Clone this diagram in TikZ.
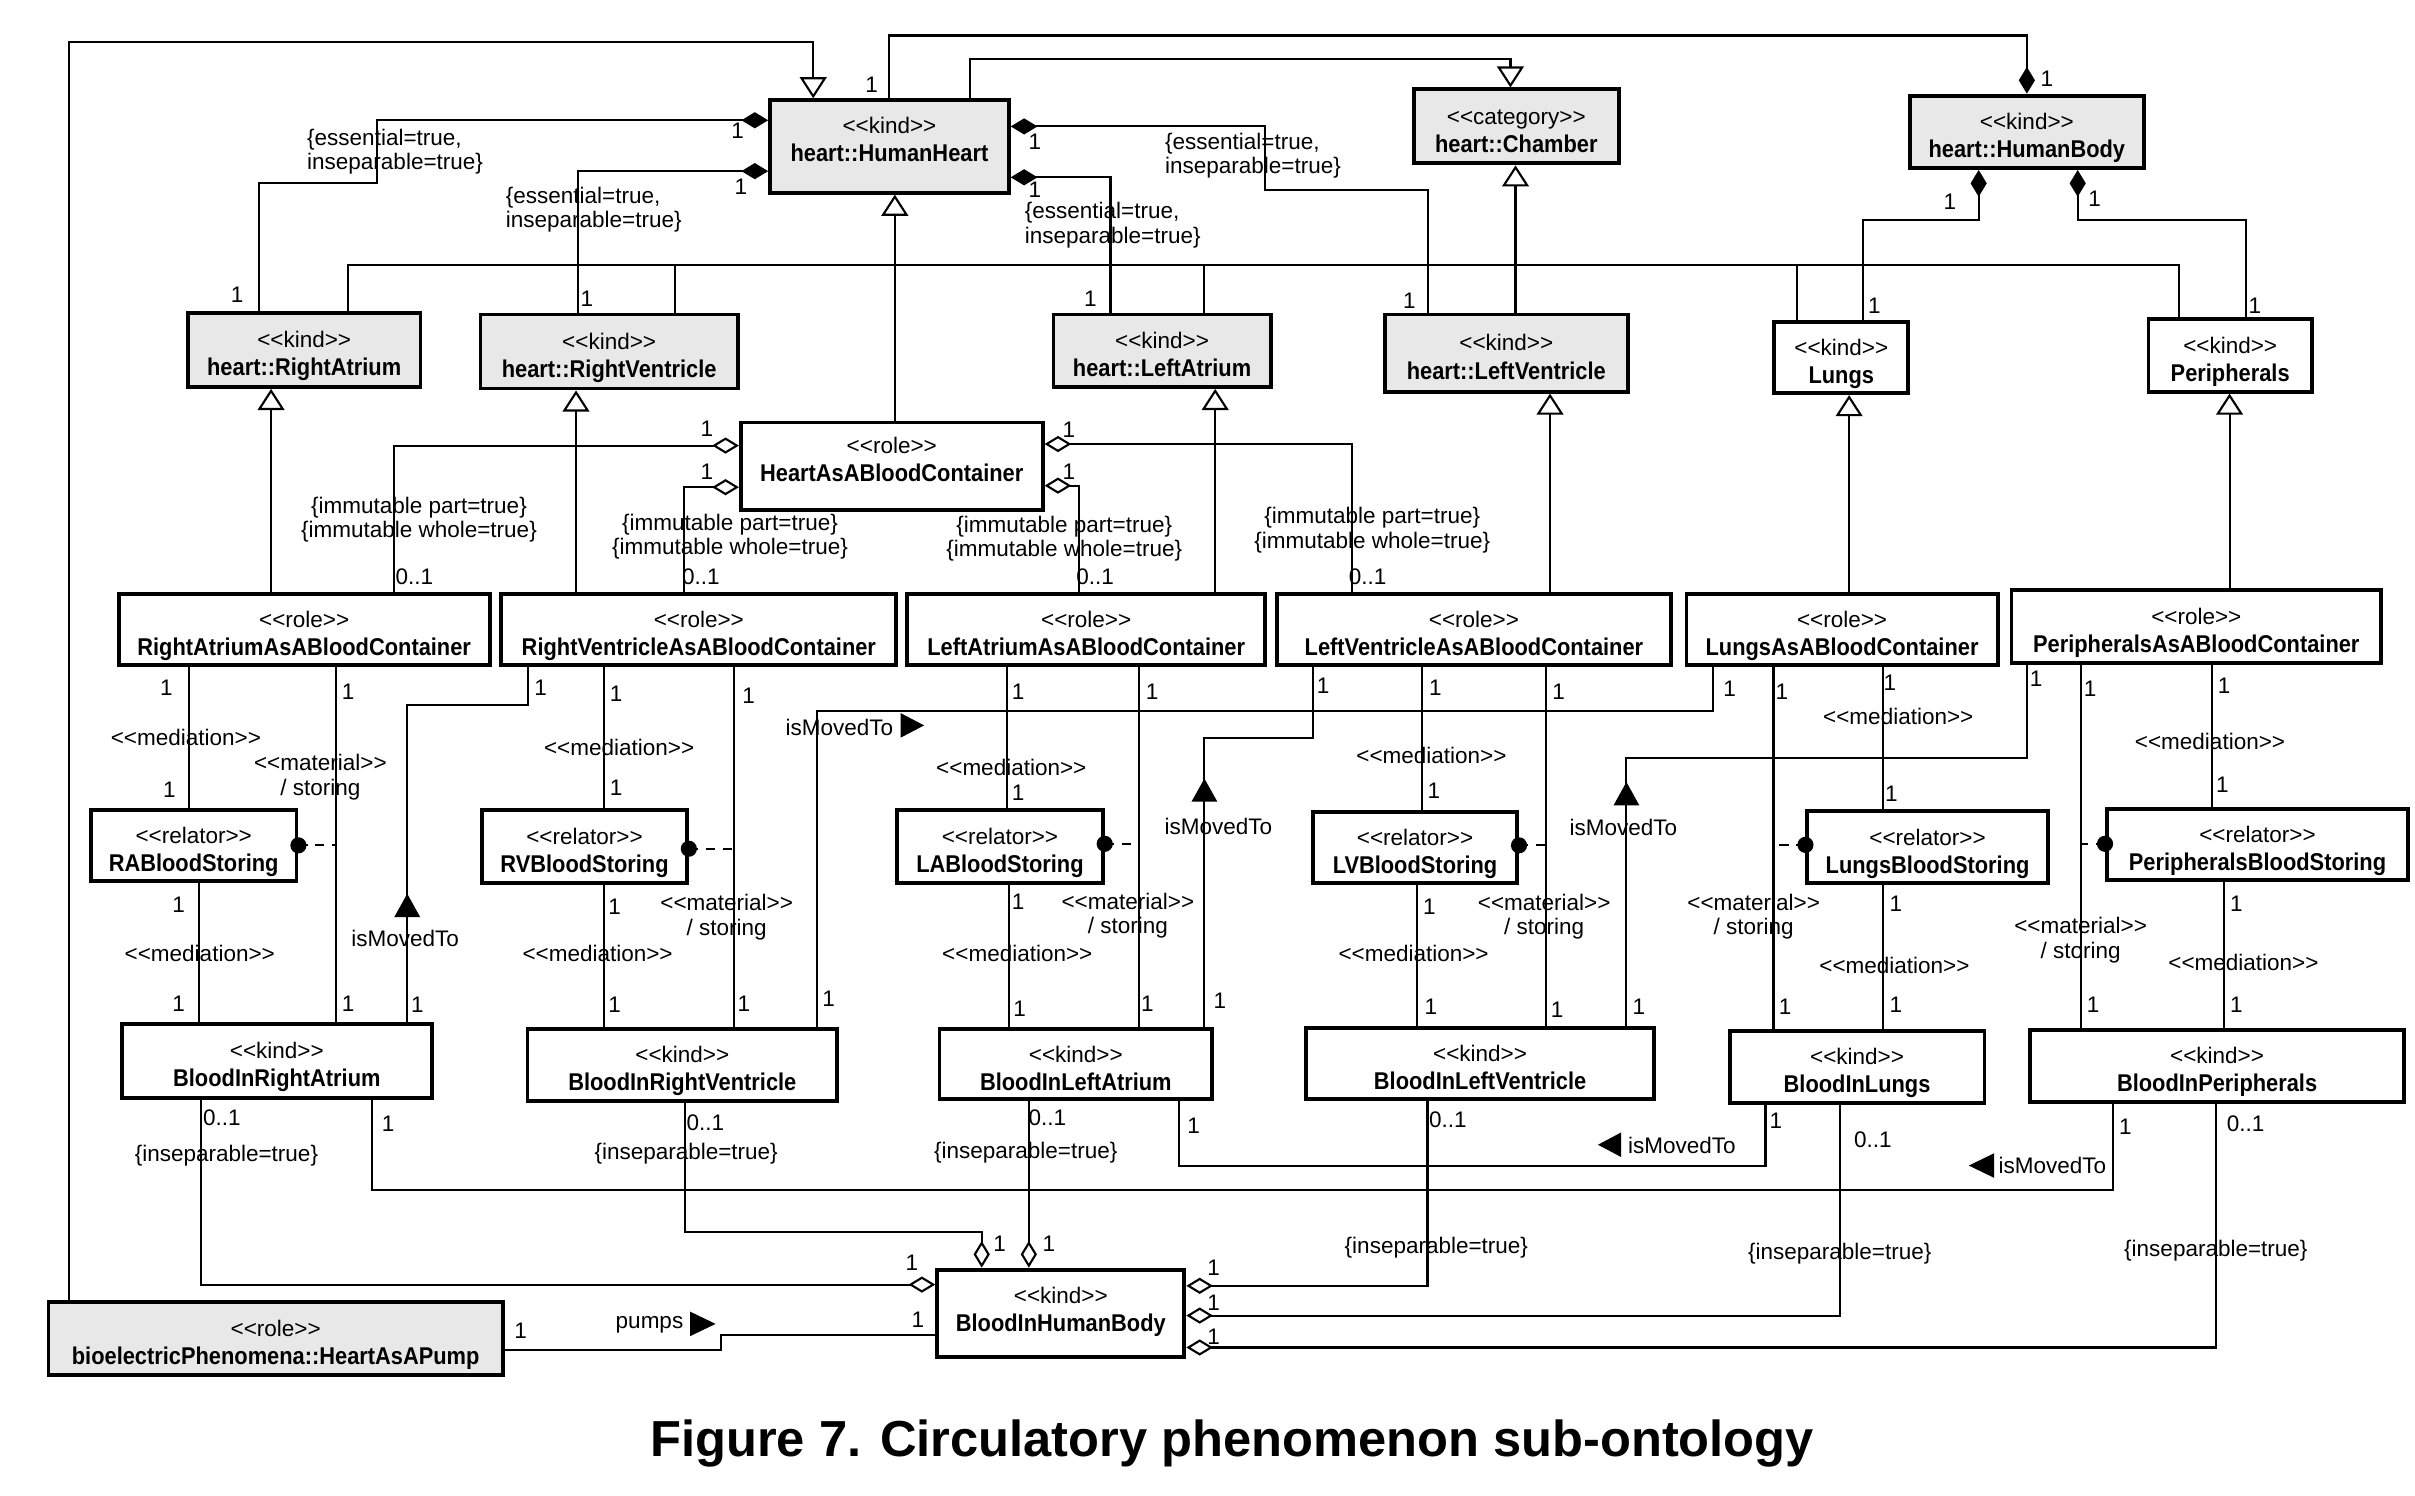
\documentclass[tikz,border=0pt]{standalone}
\usepackage{fontspec}
\setmainfont{Liberation Sans}
\newfontfamily\namefont{Liberation Sans}[FakeStretch=0.9]
\usetikzlibrary{arrows.meta}

\newcommand\stereo[1]{<\kern0pt<#1>\kern0pt>}
\newcommand\cname[1]{{\namefont\bfseries\fontsize{6.9}{8}\selectfont #1}}

\tikzset{
  span/.style args={#1/#2/#3/#4}{minimum width={(#3-#1)*0.015402cm},
    minimum height={(#4-#2)*0.015412cm}, at={({(#1+#3)/2},{(#2+#4)/2})}},
  umlbox/.style={draw, line width=1.1pt, inner sep=0pt, align=center, fill=white,
    text height=15.8pt, text depth=1pt, font=\fontsize{6.4}{8}\selectfont},
  kindbox/.style={umlbox, fill=black!9},
  tallbox/.style={text height=9.6pt},
  conn/.style={line width=0.6pt},
  gen/.style={conn, -{Triangle[open, length=6pt, width=7.6pt]}},
  comp/.style={conn, -{Diamond[length=7.6pt, width=4.6pt]}},
  aggr/.style={conn, -{Diamond[open, length=7.6pt, width=4.6pt]}},
  deriv/.style={conn, dash pattern=on 2.6pt off 2.2pt},
  mult/.style={inner sep=0pt, font=\fontsize{6.4}{7}\selectfont},
  lbl/.style={inner sep=0pt, align=center, font=\fontsize{6.4}{7}\selectfont},
}

\begin{document}
\begin{tikzpicture}[x=0.015402cm, y=-0.015412cm]
\useasboundingbox (0,0) rectangle (1568,970);

% top level
\node[kindbox, tallbox, span=500/65/655/125] (hh) {\stereo{kind}\\\cname{heart::HumanHeart}};
\node[kindbox, span=918/58/1051/106] (ch) {\stereo{category}\\\cname{heart::Chamber}};
\node[kindbox, span=1240/62/1392/109] (hb) {\stereo{kind}\\\cname{heart::HumanBody}};

% chambers
\node[kindbox, span=122/203/273/251] (ra) {\stereo{kind}\\\cname{heart::RightAtrium}};
\node[kindbox, span=312/204/479/252] (rv) {\stereo{kind}\\\cname{heart::RightVentricle}};
\node[kindbox, span=684/204/825/251] (la) {\stereo{kind}\\\cname{heart::LeftAtrium}};
\node[kindbox, span=899/204/1057/254] (lv) {\stereo{kind}\\\cname{heart::LeftVentricle}};
\node[umlbox, span=1152/209/1239/255] (lu) {\stereo{kind}\\\cname{Lungs}};
\node[umlbox, span=1395/207/1501/254] (pe) {\stereo{kind}\\\cname{Peripherals}};

% blood containers
\node[umlbox, tallbox, span=481/274/677/331] (habc) {\stereo{role}\\\cname{HeartAsABloodContainer}};
\node[umlbox, span=77/385/318/431.5] (raabc) {\stereo{role}\\\cname{RightAtriumAsABloodContainer}};
\node[umlbox, span=325.5/385/582/431.5] (rvabc) {\stereo{role}\\\cname{RightVentricleAsABloodContainer}};
\node[umlbox, span=589/385/821.5/431.5] (laabc) {\stereo{role}\\\cname{LeftAtriumAsABloodContainer}};
\node[umlbox, span=829/385/1085/431.5] (lvabc) {\stereo{role}\\\cname{LeftVentricleAsABloodContainer}};
\node[umlbox, span=1095/385/1297/431.5] (luabc) {\stereo{role}\\\cname{LungsAsABloodContainer}};
\node[umlbox, span=1306/382.5/1546/430] (peabc) {\stereo{role}\\\cname{PeripheralsAsABloodContainer}};

% relators
\node[umlbox, span=59/525.5/192.5/571.5] (rabs) {\stereo{relator}\\\cname{RABloodStoring}};
\node[umlbox, span=313/525.5/446/572.5] (rvbs) {\stereo{relator}\\\cname{RVBloodStoring}};
\node[umlbox, span=582.5/525.5/716/573] (labs) {\stereo{relator}\\\cname{LABloodStoring}};
\node[umlbox, span=852.5/526.5/985/573] (lvbs) {\stereo{relator}\\\cname{LVBloodStoring}};
\node[umlbox, span=1173.5/526/1329.5/573] (lubs) {\stereo{relator}\\\cname{LungsBloodStoring}};
\node[umlbox, span=1368/524.5/1563.5/570.5] (pebs) {\stereo{relator}\\\cname{PeripheralsBloodStoring}};

% blood
\node[umlbox, span=79/664/280.5/712] (bra) {\stereo{kind}\\\cname{BloodInRightAtrium}};
\node[umlbox, span=342.5/667.5/543.5/714] (brv) {\stereo{kind}\\\cname{BloodInRightVentricle}};
\node[umlbox, span=610/667.5/787/713] (bla) {\stereo{kind}\\\cname{BloodInLeftAtrium}};
\node[umlbox, span=848/667/1074/713] (blv) {\stereo{kind}\\\cname{BloodInLeftVentricle}};
\node[umlbox, span=1123/668.5/1288.5/715.5] (blu) {\stereo{kind}\\\cname{BloodInLungs}};
\node[umlbox, span=1318/668/1561/714.5] (bpe) {\stereo{kind}\\\cname{BloodInPeripherals}};
\node[umlbox, text height=11.7pt, span=608.5/823.5/769/880] (bhb) {\stereo{kind}\\\cname{BloodInHumanBody}};
\node[kindbox, span=31.5/844.5/326.5/892] (pump) {\stereo{role}\\\cname{bioelectricPhenomena::HeartAsAPump}};

% generalisations
\draw[gen] (pump.north -| 45,0) |- (528,27) -- (hh.north -| 528,0);
\draw[gen] (hh.north -| 629.6,0) |- (980.7,38) -- (ch.north -| 980.7,0);
\draw[gen] (lv.north -| 984,0) -- (ch.south -| 984,0);
\coordinate (tree) at (984,172);
\draw[conn] (ra.north -| 226,0) |- (1414.5,172) -- (pe.north -| 1414.5,0);
\foreach \tx/\tn in {438/rv, 782/la, 1167/lu}
  \draw[conn] (\tn.north -| \tx,0) -- (tree -| \tx,0);
\draw[gen] (habc.north -| 581,0) -- (hh.south -| 581,0);
\foreach \tx/\tc/\tp in {176/raabc/ra, 374/rvabc/rv, 789/laabc/la, 1006.4/lvabc/lv, 1200.6/luabc/lu, 1447.6/peabc/pe}
  \draw[gen] (\tc.north -| \tx,0) -- (\tp.south -| \tx,0);

% compositions
\draw[comp] (ra.north -| 168,0) |- (245,118.5) |- (hh.west |- 0,78);
\draw[comp] (rv.north -| 375,0) |- (hh.west |- 0,111);
\draw[comp] (lv.north -| 927,0) |- (821.6,123) |- (hh.east |- 0,82);
\draw[comp] (la.north -| 721,0) |- (hh.east |- 0,115);
\draw[comp] (hh.north -| 577,0) |- (1316,23) -- (hb.north -| 1316,0);
\draw[comp] (lu.north -| 1209.5,0) |- (1284.7,142.7) -- (hb.south -| 1284.7,0);
\draw[comp] (pe.north -| 1458.3,0) |- (1349,142.7) -- (hb.south -| 1349,0);

% aggregations
\draw[aggr] (raabc.north -| 256,0) |- (habc.west |- 0,289);
\draw[aggr] (rvabc.north -| 444,0) |- (habc.west |- 0,316);
\draw[aggr] (lvabc.north -| 878,0) |- (habc.east |- 0,288);
\draw[aggr] (laabc.north -| 700.3,0) |- (habc.east |- 0,315);
\draw[aggr] (bra.south -| 130.4,0) |- (bhb.west |- 0,833.2);
\draw[aggr] (brv.south -| 444.8,0) |- (637.4,799.3) -- (bhb.north -| 637.4,0);
\draw[aggr] (bla.south -| 668,0) -- (bhb.north -| 668,0);
\draw[aggr] (blv.south -| 926.8,0) |- (bhb.east |- 0,834);
\draw[aggr] (blu.south -| 1194.8,0) |- (bhb.east |- 0,853.3);
\draw[aggr] (bpe.south -| 1438.7,0) |- (bhb.east |- 0,874);

% mediation and material
\foreach \tx/\ta/\tb in {123/raabc/rabs, 129/rabs/bra, 218/raabc/bra,
    392/rvabc/rvbs, 392/rvbs/brv, 476.4/rvabc/brv,
    654/laabc/labs, 655/labs/bla, 739.3/laabc/bla,
    923/lvabc/lvbs, 920/lvbs/blv, 1003.8/lvabc/blv,
    1222.3/luabc/lubs, 1222.8/lubs/blu, 1151.5/luabc/blu,
    1436.2/peabc/pebs, 1443.8/pebs/bpe, 1351/peabc/bpe}
  \draw[conn] (\ta.south -| \tx,0) -- (\tb.north -| \tx,0);

% derivations
\draw[deriv] (rabs.east |- 0,548.3) -- (218,548.3);
\draw[deriv] (rvbs.east |- 0,550.5) -- (476.4,550.5);
\draw[deriv] (labs.east |- 0,547.3) -- (739.3,547.3);
\draw[deriv] (lvbs.east |- 0,548.3) -- (1003.8,548.3);
\draw[deriv] (lubs.west |- 0,548) -- (1151.5,548);
\draw[deriv] (pebs.west |- 0,547.3) -- (1351,547.3);
\fill (rabs.east |- 0,548.3) circle[radius=2.3pt];
\fill (rvbs.east |- 0,550.5) circle[radius=2.3pt];
\fill (labs.east |- 0,547.3) circle[radius=2.3pt];
\fill (lvbs.east |- 0,548.3) circle[radius=2.3pt];
\fill (lubs.west |- 0,548) circle[radius=2.3pt];
\fill (pebs.west |- 0,547.3) circle[radius=2.3pt];

% isMovedTo
\draw[conn] (bra.north -| 264.4,0) |- (342.7,457.5) -- (rvabc.south -| 342.7,0);
\draw[conn] (brv.north -| 530.3,0) |- (1112.4,461.2) -- (luabc.south -| 1112.4,0);
\draw[conn] (bla.north -| 782,0) |- (852.4,478.5) -- (lvabc.south -| 852.4,0);
\draw[conn] (blv.north -| 1056,0) |- (1316,491.5) -- (peabc.south -| 1316,0);
\draw[conn] (bla.south -| 765.7,0) |- (1146.3,756) -- (blu.south -| 1146.3,0);
\draw[conn] (bra.south -| 241.3,0) |- (1371.8,771.8) -- (bpe.south -| 1371.8,0);
\draw[conn] (pump.east |- 0,875.4) -| (467.9,865.7) -- (bhb.west |- 0,865.7);

\node[lbl] (mv1) at (263,609) {isMovedTo};
\node[lbl] (mv2) at (545,471.6) {isMovedTo};
\node[lbl] (mv3) at (791,536) {isMovedTo};
\node[lbl] (mv4) at (1054,536.4) {isMovedTo};
\node[lbl] (mv5) at (1092,743) {isMovedTo};
\node[lbl] (mv6) at (1332.5,756) {isMovedTo};
\node[lbl] (pumps) at (421.7,859) {pumps};
\fill (264.4,579.7) -- (256,594.8) -- (272.8,594.8) -- cycle;
\fill (782,505) -- (773.6,520) -- (790.4,520) -- cycle;
\fill (1056,507.2) -- (1047.6,522.4) -- (1064.4,522.4) -- cycle;
\fill (600,470.5) -- (584.7,462.5) -- (584.7,478.5) -- cycle;
\fill (1037.5,742.5) -- (1052.6,734.5) -- (1052.6,750.5) -- cycle;
\fill (1278.3,756) -- (1294.8,748) -- (1294.8,764) -- cycle;
\fill (464.6,858.7) -- (448,850.7) -- (448,866.7) -- cycle;

% constraints
\node[lbl, anchor=west, align=left] (ess1) at (199,98.5) {\{essential=true,\\inseparable=true\}};
\node[lbl, anchor=west, align=left] (ess2) at (328,136) {\{essential=true,\\inseparable=true\}};
\node[lbl, anchor=west, align=left] (ess3) at (756,101) {\{essential=true,\\inseparable=true\}};
\node[lbl, anchor=west, align=left] (ess4) at (665,146) {\{essential=true,\\inseparable=true\}};
\foreach \px/\py [count=\i] in {272/337, 474/348, 691/349.5, 891/344}
  \node[lbl] (imm\i) at (\px,\py) {\{immutable part=true\}\\\{immutable whole=true\}};
\foreach \px/\py [count=\i] in {147/749.5, 445.5/748, 666/747.4, 932.6/809, 1194.5/813, 1438.7/811}
  \node[lbl] (ins\i) at (\px,\py) {\{inseparable=true\}};
\foreach \px/\py [count=\i] in {120.7/478, 129.7/618.6, 402/484.5, 388/618.6, 656.6/497.5, 660.5/618.6,
    929.4/490, 917.8/618.6, 1232.5/465, 1230/626.2, 1434.9/480.6, 1456.6/624}
  \node[lbl] (med\i) at (\px,\py) {\stereo{mediation}};
\foreach \px/\py [count=\i] in {208/504, 471.8/595, 732.3/594, 1002.6/594.6, 1138.6/594.5, 1350.9/610}
  \node[lbl] (mat\i) at (\px,\py) {\stereo{material}\\/ storing};

% multiplicities
\foreach \px/\py [count=\i] in {154/191, 479/85, 481/121, 381/194, 566/55, 1329/51, 672/92, 672/123,
    708/194, 915/195, 1266/131, 1217/198, 1360/129, 1464/198,
    459/278, 459/306, 694/279, 694/306,
    108/446, 110/512, 226/449, 116/587, 116/651, 226/651, 271/652,
    351/446, 400/450, 486/451, 400/511, 399/588, 399/652, 483/651, 538/648,
    661/449, 748/449, 661/514, 661/585, 662/654, 745/651, 792/649,
    859/445, 932/446, 1012/449, 931/513, 928/588, 929/653, 1011/655, 1064/653,
    1123/447, 1157/449, 1227/443, 1228/515, 1231/586, 1159/653, 1231/652,
    1322/440, 1357/447, 1444/445, 1443/509, 1452/586, 1359/652, 1452/652,
    252/729, 775/730, 1153/727, 1380/731,
    649/807, 681/807, 592/819, 596/856, 788/822, 788/845, 788/867, 338/863}
  \node[mult] (one\i) at (\px,\py) {1};
\foreach \px/\py [count=\i] in {269/374, 455/374, 711/374, 888/374, 144/725, 458/728, 680/725, 940/726, 1216/739, 1458/729}
  \node[mult] (opt\i) at (\px,\py) {0..1};

\node[font=\bfseries\fontsize{14.4}{16}\selectfont, inner sep=0pt] (title) at (800,936)
  {Figure 7. Circulatory phenomenon sub-ontology};
\end{tikzpicture}
\end{document}
